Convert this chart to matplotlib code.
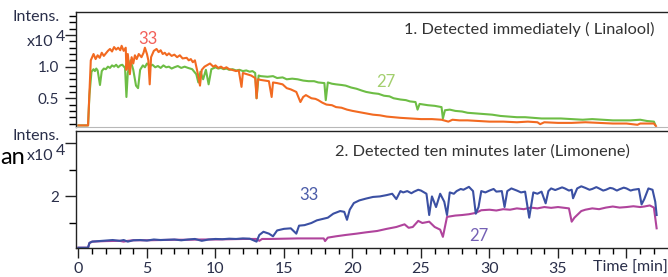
# %% Two stacked ion traces: linalool vs limonene
import matplotlib.pyplot as plt
import numpy as np

plt.rcParams['font.family'] = ['Lato', 'DejaVu Sans']

# %% Data (intensity in units of 10^4, time in minutes)
# top panel, m/z 33 (orange)
t_top33 = [0, 0.7, 0.8, 0.9, 1.0, 1.1, 1.25, 1.4, 1.55, 1.7, 1.85, 2.0, 2.15, 2.3, 2.45,
           2.6, 2.75, 2.9, 3.05, 3.15, 3.3, 3.45, 3.5, 3.6, 3.75, 3.88, 4.0, 4.12, 4.25,
           4.4, 4.6, 4.75, 4.85, 5.0, 5.1, 5.2, 5.3, 5.5, 5.7, 5.85, 6.0, 6.15, 6.3, 6.45,
           6.6, 6.8, 7.0, 7.2, 7.4, 7.6, 7.9, 8.05, 8.2, 8.35, 8.5, 8.7, 8.87, 9.0, 9.2,
           9.36, 9.6, 9.84, 10.0, 10.2, 10.4, 10.6, 10.8, 11.0, 11.2, 11.5, 11.7, 11.9,
           12.0, 12.3, 12.6, 12.9, 13.0, 13.1, 13.3, 13.6, 13.9, 14.1, 14.2, 14.5, 14.9,
           15.2, 15.5, 15.7, 15.9, 16.2, 16.4, 16.6, 17.0, 17.3, 17.5, 17.8, 18.1, 18.5,
           18.8, 19.2, 19.6, 20.0, 20.5, 21.0, 21.5, 22.0, 22.5, 23.0, 23.5, 24.2, 25.0,
           25.8, 26.5, 27.0, 27.3, 27.8, 28.4, 29.2, 30.0, 31.0, 32.0, 32.8, 33.5, 33.7,
           34.0, 35.0, 36.0, 37.0, 38.0, 39.0, 40.0, 40.8, 41.0, 42.0, 42.15]
v_top33 = [0.07, 0.07, 0.6, 1.1, 1.15, 1.2, 1.12, 1.18, 1.14, 1.22, 1.17, 1.21, 1.25, 1.28, 1.24,
           1.31, 1.27, 1.3, 1.26, 1.33, 1.25, 1.3, 0.95, 1.2, 0.88, 1.15, 1.05, 1.18, 1.12,
           1.2, 1.15, 1.22, 1.3, 1.2, 1.1, 0.72, 1.15, 1.25, 1.28, 1.23, 1.26, 1.2, 1.22, 1.18,
           1.21, 1.17, 1.19, 1.15, 1.18, 1.13, 1.14, 1.1, 1.12, 1.07, 1.1, 0.9, 0.7, 0.95, 1.0,
           1.02, 1.05, 1.0, 1.02, 0.98, 1.0, 0.97, 0.99, 0.96, 0.95, 0.93, 0.94, 0.68,
           0.9, 0.88, 0.86, 0.82, 0.5, 0.8, 0.79, 0.78, 0.77, 0.52, 0.75, 0.74, 0.72,
           0.66, 0.64, 0.62, 0.6, 0.44, 0.52, 0.55, 0.5, 0.49, 0.47, 0.43, 0.4, 0.39,
           0.36, 0.35, 0.32, 0.3, 0.28, 0.26, 0.24, 0.23, 0.21, 0.2, 0.19, 0.18, 0.17,
           0.17, 0.16, 0.13, 0.16, 0.15, 0.15, 0.14, 0.13, 0.13, 0.12, 0.13, 0.12, 0.09,
           0.12, 0.11, 0.11, 0.12, 0.11, 0.1, 0.1, 0.08, 0.1, 0.1, 0.06]

# top panel, m/z 27 (green)
t_top27 = [0, 0.7, 0.8, 0.95, 1.1, 1.2, 1.3, 1.4, 1.57, 1.7, 1.85, 2.0, 2.15, 2.3, 2.45,
           2.6, 2.75, 2.9, 3.05, 3.2, 3.4, 3.5, 3.6, 3.8, 4.0, 4.2, 4.35, 4.5, 4.7, 4.85,
           5.0, 5.2, 5.4, 5.6, 5.8, 6.0, 6.2, 6.4, 6.6, 6.8, 7.0, 7.25, 7.5, 7.75, 8.0,
           8.3, 8.6, 8.75, 8.9, 9.1, 9.3, 9.5, 9.7, 9.8, 10.0, 10.2, 10.4, 10.6, 10.8,
           11.0, 11.25, 11.5, 11.75, 12.0, 12.25, 12.5, 12.7, 12.9, 13.0, 13.15, 13.3,
           13.8, 14.2, 14.5, 14.9, 15.2, 15.6, 16.0, 16.4, 16.8, 17.2, 17.5, 17.95, 18.05,
           18.2, 18.5, 18.8, 19.2, 19.5, 19.9, 20.3, 20.7, 21.0, 21.5, 21.9, 22.3, 22.7,
           23.0, 23.5, 23.9, 24.2, 24.6, 24.75, 24.9, 25.2, 25.5, 26.0, 26.5, 26.6, 26.75,
           27.1, 27.5, 28.0, 28.4, 29.0, 29.5, 30.2, 30.8, 31.4, 32.0, 32.6, 33.2, 33.8,
           34.5, 35.2, 36.0, 36.8, 37.5, 38.2, 39.0, 39.5, 40.3, 41.0, 41.5, 42.0, 42.1]
v_top27 = [0.07, 0.07, 0.55, 0.92, 0.96, 0.93, 0.97, 0.94, 0.71, 0.93, 0.97, 0.96, 1.0, 0.98, 1.02,
           1.0, 1.03, 0.99, 1.02, 1.03, 0.98, 0.52, 0.9, 1.1, 0.95, 0.7, 0.66, 0.95, 1.02, 0.99,
           1.05, 1.01, 1.03, 0.99, 1.01, 0.98, 1.02, 0.99, 1.0, 0.97, 0.99, 1.01, 0.98, 1.0, 0.98,
           0.96, 0.88, 0.75, 0.92, 0.8, 0.95, 0.72, 0.96, 0.97, 0.99, 0.97, 0.98, 0.96, 0.97,
           0.95, 0.96, 0.94, 0.95, 0.93, 0.94, 0.92, 0.93, 0.9, 0.5, 0.86, 0.85,
           0.84, 0.85, 0.82, 0.83, 0.8, 0.81, 0.8, 0.78, 0.77, 0.77, 0.75, 0.74, 0.47,
           0.75, 0.73, 0.72, 0.71, 0.7, 0.67, 0.65, 0.62, 0.6, 0.58, 0.57, 0.54, 0.53,
           0.5, 0.48, 0.47, 0.45, 0.44, 0.32, 0.41, 0.4, 0.39, 0.38, 0.36, 0.18, 0.31,
           0.32, 0.3, 0.29, 0.27, 0.26, 0.25, 0.24, 0.22, 0.21, 0.2, 0.2, 0.19, 0.18,
           0.18, 0.18, 0.17, 0.16, 0.17, 0.16, 0.15, 0.15, 0.15, 0.16, 0.14, 0.13, 0.08]

# bottom panel, m/z 33 (blue)
t_bot33 = [0, 0.7, 0.8, 1.0, 1.5, 2.0, 2.5, 3.0, 3.3, 3.6, 4.0, 4.5, 5.0, 5.5, 6.0, 6.5,
           7.0, 7.5, 8.0, 8.5, 9.0, 9.5, 10.0, 10.5, 11.0, 11.5, 12.0, 12.5, 13.0, 13.2,
           13.5, 13.9, 14.2, 14.5, 15.0, 15.5, 15.9, 16.1, 16.5, 17.0, 17.4, 17.8, 18.2,
           18.6, 19.1, 19.4, 19.6, 19.8, 20.1, 20.5, 21.0, 21.5, 22.0, 22.5, 22.9, 23.2,
           23.5, 23.7, 24.0, 24.3, 24.5, 24.8, 25.0, 25.4, 25.6, 25.8, 26.1, 26.4, 26.7,
           26.9, 27.1, 27.4, 27.6, 27.9, 28.1, 28.5, 28.8, 29.0, 29.2, 29.4, 29.7, 30.0,
           30.3, 30.5, 30.9, 31.1, 31.3, 31.6, 32.0, 32.3, 32.6, 32.9, 33.2, 33.5, 33.8,
           34.1, 34.3, 34.5, 34.8, 35.0, 35.3, 35.5, 35.8, 36.0, 36.1, 36.4, 36.7, 37.0,
           37.3, 37.5, 37.8, 38.0, 38.3, 38.5, 38.8, 39.0, 39.3, 39.5, 39.8, 40.0, 40.3,
           40.5, 40.9, 41.1, 41.3, 41.6, 41.9, 42.1, 42.2]
v_bot33 = [0.07, 0.07, 0.25, 0.3, 0.32, 0.34, 0.36, 0.33, 0.36, 0.3, 0.35, 0.36, 0.34, 0.38, 0.36, 0.37,
           0.38, 0.35, 0.38, 0.4, 0.33, 0.38, 0.4, 0.39, 0.41, 0.4, 0.42, 0.41, 0.3, 0.55,
           0.67, 0.6, 0.5, 0.72, 0.78, 0.8, 0.6, 0.9, 0.92, 1.0, 1.1, 1.15, 1.2,
           1.35, 1.45, 1.42, 1.12, 1.5, 1.75, 1.85, 1.92, 1.98, 2.0, 2.05, 2.1, 1.9,
           2.2, 2.15, 2.2, 2.12, 2.18, 2.25, 2.22, 2.1, 1.3, 2.0, 1.6, 2.1, 1.8,
           1.3, 2.15, 2.1, 2.2, 2.28, 2.25, 2.36, 2.2, 1.35, 1.6, 2.2, 2.15, 2.22,
           2.28, 2.18, 2.2, 1.6, 2.2, 2.3, 2.22, 2.15, 2.18, 1.2, 2.15, 2.1, 2.18,
           1.74, 2.2, 2.3, 2.24, 2.28, 2.34, 2.3, 2.22, 2.25, 1.93, 2.3, 2.38, 2.32,
           2.25, 2.28, 2.35, 2.3, 2.22, 2.25, 2.32, 2.3, 2.22, 2.27, 2.33, 2.3, 2.22,
           2.25, 2.28, 1.7, 1.9, 2.3, 2.25, 1.8, 1.3]

# bottom panel, m/z 27 (purple)
t_bot27 = [0, 0.7, 0.8, 1.0, 2.0, 3.0, 3.3, 3.6, 4.0, 5.0, 6.0, 7.0, 8.0, 9.0, 10.0, 11.0,
           12.0, 13.0, 13.2, 13.4, 14.0, 15.0, 16.0, 17.0, 17.9, 18.0, 18.2, 18.8, 19.5,
           20.3, 21.0, 21.8, 22.5, 23.2, 23.8, 24.1, 24.4, 24.8, 25.1, 25.6, 26.0, 26.4,
           26.6, 26.9, 27.5, 28.0, 28.5, 29.0, 29.4, 30.0, 30.5, 31.0, 31.5, 32.0, 32.5,
           33.0, 33.5, 34.0, 34.5, 35.0, 35.8, 36.0, 36.2, 36.7, 37.0, 37.5, 38.0, 38.5,
           39.0, 39.5, 40.0, 40.5, 41.0, 41.3, 41.7, 42.0, 42.2]
v_bot27 = [0.07, 0.07, 0.25, 0.3, 0.32, 0.33, 0.3, 0.33, 0.35, 0.35, 0.36, 0.37, 0.37, 0.38, 0.38, 0.39,
           0.4, 0.4, 0.33, 0.4, 0.4, 0.41, 0.42, 0.42, 0.42, 0.32, 0.45, 0.5, 0.55,
           0.6, 0.65, 0.7, 0.78, 0.85, 0.95, 0.82, 0.85, 1.08, 1.0, 1.05, 0.85, 0.75,
           0.48, 1.23, 1.28, 1.3, 1.33, 1.38, 1.48, 1.5, 1.47, 1.52, 1.5, 1.55, 1.52,
           1.58, 1.55, 1.6, 1.57, 1.6, 1.55, 1.05, 1.2, 1.45, 1.5, 1.55, 1.52, 1.58,
           1.62, 1.58, 1.6, 1.63, 1.6, 1.62, 1.66, 1.58, 0.8]

x_major = [0, 5, 10, 15, 20, 25, 30, 35, 40]
x_labels = ['0', '5', '10', '15', '20', '25', '30', '35', '']

# %% Figure
W, H = 668, 277
txt = '#2a2f4a'
fig = plt.figure(figsize=(W / 100, H / 100), dpi=100)
ax1 = fig.add_axes([76 / W, 1 - 127 / H, 1 - 76 / W, (127 - 12) / H])
ax2 = fig.add_axes([76 / W, 1 - 248 / H, 1 - 76 / W, (248 - 131) / H])

ax1.plot(t_top27, v_top27, color='#6dbd45', lw=1.5)
ax1.plot(t_top33, v_top33, color='#f26a21', lw=1.5)
ax2.plot(t_bot27, v_bot27, color='#b0449c', lw=1.5)
ax2.plot(t_bot33, v_bot33, color='#3b50a3', lw=1.5)

for ax in (ax1, ax2):
    ax.set_xlim(-0.18, 43.03)
    ax.spines['right'].set_visible(False)
    for s in ax.spines.values():
        s.set_color('#222222')
        s.set_linewidth(1.0)
    ax.tick_params(axis='y', direction='out', colors='#222222', labelcolor=txt,
                   labelsize=11, pad=4)
    ax.tick_params(axis='y', which='major', length=8, width=1)
    ax.tick_params(axis='y', which='minor', length=5, width=1)

ax1.set_ylim(0.045, 1.865)
ax1.set_yticks([0.5, 1.0, 1.5])
ax1.set_yticklabels(['0.5', '1.0', ''])
ax1.set_yticks(np.arange(0.1, 1.85, 0.1), minor=True)
ax1.set_xticks([])
ax1.spines['bottom'].set_color('#b8b8b8')
ax1.spines['bottom'].set_linewidth(0.8)

ax2.set_ylim(0.06, 4.46)
ax2.set_yticks([2, 4])
ax2.set_yticklabels(['2', ''])
ax2.set_yticks([1, 3], minor=True)
ax2.set_xticks(x_major)
ax2.set_xticklabels(x_labels)
ax2.set_xticks(np.arange(1, 43, 1), minor=True)
ax2.tick_params(axis='x', direction='out', colors='#222222', labelcolor=txt,
                labelsize=11.5, pad=3)
ax2.tick_params(axis='x', which='major', length=7, width=1)
ax2.tick_params(axis='x', which='minor', length=4, width=1)

# titles and trace labels
fig.text(529 / W, 1 - 29 / H, '1. Detected immediately ( Linalool)', ha='center',
         va='center', fontsize=11.8, color='#333333')
fig.text(482 / W, 1 - 152 / H, '2. Detected ten minutes later (Limonene)', ha='center',
         va='center', fontsize=11.8, color='#333333')
ax1.text(5.1, 1.43, '33', color='#f2605a', fontsize=12, ha='center', va='center')
ax1.text(22.4, 0.76, '27', color='#a3cf6e', fontsize=12, ha='center', va='center')
ax2.text(16.8, 2.04, '33', color='#4b5ca8', fontsize=12, ha='center', va='center')
ax2.text(29.2, 0.51, '27', color='#7561b5', fontsize=12, ha='center', va='center')

# axis captions
for y0 in (17, 136):
    fig.text(13 / W, 1 - y0 / H, 'Intens.', ha='left', va='center', fontsize=11.5, color=txt)
for y0 in (42, 156):
    fig.text(27 / W, 1 - y0 / H, 'x10', ha='left', va='center', fontsize=11.5, color=txt)
    fig.text(56 / W, 1 - (y0 - 5) / H, '4', ha='left', va='center', fontsize=11.5, color=txt)
fig.text(593 / W, 1 - 268 / H, 'Time [min]', ha='left', va='center', fontsize=11.5, color=txt)
fig.text(0.5 / W, 1 - 158 / H, 'an', ha='left', va='center', fontsize=17, color='black')

fig.savefig('out.png', dpi=100)
